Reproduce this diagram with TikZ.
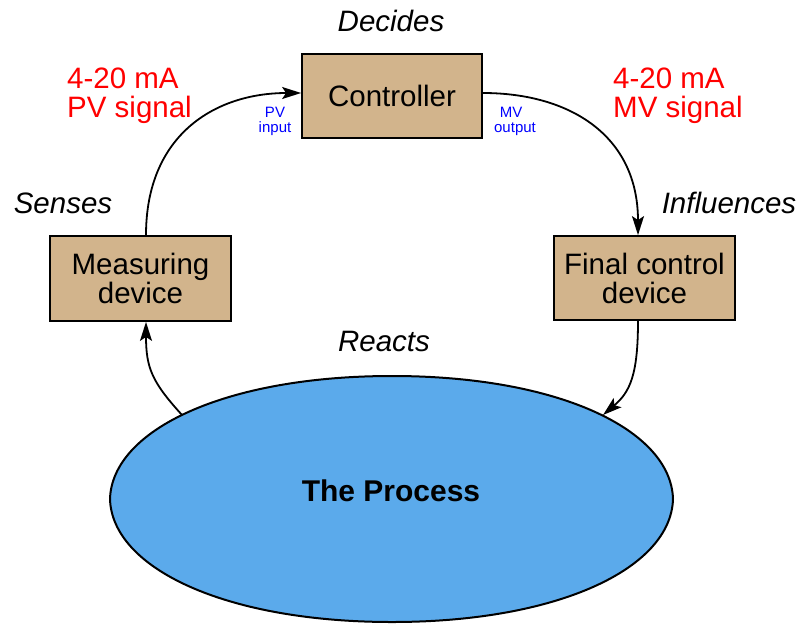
\documentclass[tikz,border=0pt]{standalone}
\usepackage{fontspec}
\setmainfont{Liberation Sans}
\usetikzlibrary{arrows.meta}
\definecolor{boxtan}{RGB}{210,180,140}
\definecolor{procblue}{RGB}{91,170,235}
\begin{document}
\begin{tikzpicture}[x=1pt,y=-1pt,
  box/.style={draw=black,line width=1.8pt,fill=boxtan,inner sep=0pt,align=center,
    font=\fontsize{29.5}{29}\selectfont},
  big/.style={font=\fontsize{29.5}{29}\selectfont,inner sep=0pt},
  bigit/.style={font=\fontsize{29.5}{29}\selectfont\itshape,inner sep=0pt,anchor=base},
  redlbl/.style={big,text=red,anchor=base west},
  small/.style={font=\fontsize{15}{15}\selectfont,text=blue,inner sep=0pt,anchor=base},
  conn/.style={line width=1.8pt},
  tip/.style={-{Stealth[length=19pt,width=12pt,inset=4pt]}}]
\useasboundingbox (0,0) rectangle (800,624);
% process
\path[fill=procblue,draw=black,line width=2pt]
  (110,499) .. controls (112,430) and (225,376) .. (392,376)
  .. controls (559,376) and (671,430) .. (673,499)
  .. controls (671,568) and (559,622) .. (392,622)
  .. controls (225,622) and (112,568) .. (110,499) -- cycle;
\node[font=\fontsize{30}{30}\selectfont\bfseries,inner sep=0pt,anchor=base] (proc) at (391,501) {The Process};
\coordinate (pl) at (182,415);
\coordinate (pr) at (603,415);
% boxes
\node[box,minimum width=180pt,minimum height=84pt,text depth=0pt,yshift=2pt] (ctrl) at (392,98) {Controller};
\node[box,minimum width=181pt,minimum height=85pt] (meas) at (140.5,278.5) {Measuring\\device};
\node[box,minimum width=181pt,minimum height=84pt] (fcd) at (644.5,278) {Final control\\device};
% connectors
\draw[conn,tip] ([xshift=5.5pt]meas.north) .. controls (146,135) and (215,93) .. ([yshift=3pt]ctrl.west);
\draw[conn,tip] ([yshift=3pt]ctrl.east) .. controls (569,93) and (638,135) .. ([xshift=-6.5pt]fcd.north);
\draw[conn,tip] (pl) .. controls (152,382) and (146,368) .. ([xshift=5.5pt]meas.south);
\draw[conn,tip] ([xshift=-6.5pt]fcd.south) .. controls (638,375) and (630,392) .. (pr);
% labels
\node[bigit] (dec) at (391,31) {Decides};
\node[bigit] (sen) at (63,213) {Senses};
\node[bigit] (inf) at (729,213) {Influences};
\node[bigit] (rea) at (384,351) {Reacts};
\node[redlbl] (r1) at (67,88) {4-20 mA};
\node[redlbl] (r2) at (67,117) {PV signal};
\node[redlbl] (r3) at (613,88) {4-20 mA};
\node[redlbl] (r4) at (613,117) {MV signal};
\node[small] (pv) at (275,117) {PV};
\node[small] (pvi) at (275,132) {input};
\node[small] (mv) at (511,117) {MV};
\node[small] (mvo) at (515,132) {output};
\end{tikzpicture}
\end{document}
